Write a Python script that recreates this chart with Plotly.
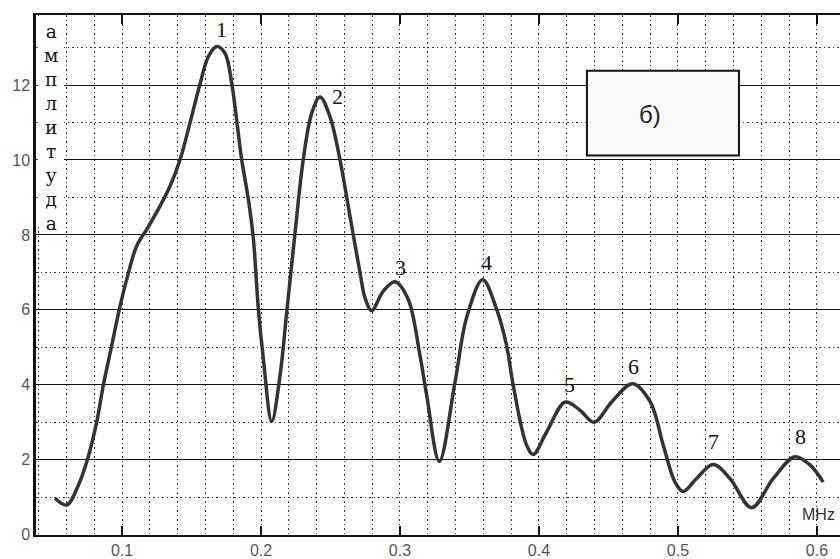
import plotly.graph_objects as go

# ---- data ----
freq_mhz = [0.0518, 0.0602, 0.0686, 0.0750, 0.0818, 0.0866, 0.0926, 0.0981, 0.1034, 0.1106,
            0.1178, 0.1273, 0.1345, 0.1417, 0.1489, 0.1561, 0.1621, 0.1681, 0.1741, 0.1789,
            0.1861, 0.1909, 0.1945, 0.1981, 0.2017, 0.2077, 0.2137, 0.2185, 0.2245, 0.2304,
            0.2365, 0.2424, 0.2496, 0.2568, 0.2640, 0.2712, 0.2750, 0.2796, 0.2880, 0.2964,
            0.3058, 0.3144, 0.3192, 0.3283, 0.3396, 0.3480, 0.3595, 0.3695, 0.3767, 0.3815,
            0.3911, 0.3959, 0.4055, 0.4190, 0.4295, 0.4397, 0.4523, 0.4673, 0.4800, 0.4894,
            0.4978, 0.5038, 0.5134, 0.5254, 0.5374, 0.5530, 0.5686, 0.5842, 0.5950, 0.6045]
amplitude = [0.97, 0.79, 1.32, 1.99, 3.01, 4.00, 5.05, 6.02, 6.82, 7.71,
             8.15, 8.77, 9.30, 10.00, 10.99, 12.03, 12.76, 13.03, 12.85, 12.05,
             10.01, 8.95, 7.90, 6.02, 4.69, 3.02, 4.25, 5.94, 8.06, 10.01,
             11.25, 11.68, 11.16, 10.01, 8.50, 7.00, 6.30, 5.98, 6.50, 6.75,
             6.29, 4.78, 3.72, 1.96, 4.07, 5.80, 6.80, 6.02, 5.05, 3.98,
             2.39, 2.14, 2.74, 3.54, 3.32, 3.00, 3.54, 4.03, 3.55, 2.39,
             1.41, 1.15, 1.50, 1.87, 1.50, 0.72, 1.50, 2.08, 1.86, 1.40]

peak_labels = ["1", "2", "3", "4", "5", "6", "7", "8"]
peak_label_x = [0.1719, 0.2547, 0.3007, 0.3619, 0.4223, 0.4683, 0.5259, 0.5885]
peak_label_y = [13.47, 11.69, 7.14, 7.27, 4.00, 4.50, 2.49, 2.62]

x_tick_vals = [0.1, 0.2, 0.3, 0.4, 0.5, 0.6]
x_tick_text = ["0.1", "0.2", "0.3", "0.4", "0.5", "0.6"]
y_tick_vals = [0, 2, 4, 6, 8, 10, 12]
y_tick_text = ["0", "2", "4", "6", "8", "10", "12"]

y_label_letters = ["а", "м", "п", "л", "и", "т", "у", "д", "а"]
panel_label = "б)"
unit_label = "MHz"

X_RANGE = [0.0381, 0.6166]
Y_RANGE = [-0.01, 13.87]

fig = go.Figure()
fig.add_trace(go.Scatter(
    x=freq_mhz, y=amplitude, mode="lines",
    line=dict(color="#333333", width=3.5, shape="spline", smoothing=1.0),
    hoverinfo="skip", showlegend=False,
))

serif = "Liberation Serif, Times New Roman, serif"
sans = "Liberation Sans, Arial, sans-serif"

annotations = []
for t, xv, yv in zip(peak_labels, peak_label_x, peak_label_y):
    annotations.append(dict(x=xv, y=yv, text=t, showarrow=False,
                            font=dict(family=serif, size=22, color="#111111"),
                            xanchor="center", yanchor="middle"))

# vertical y-axis caption, one letter per line (wrapped text)
annotations.append(dict(xref="paper", yref="paper",
                        x=15 / 804, y=1 - 4 / 522,
                        text="<br>".join(y_label_letters), showarrow=False,
                        align="center",
                        font=dict(family="DejaVu Serif, serif", size=18.5, color="#111111"),
                        xanchor="center", yanchor="top"))

annotations.append(dict(x=0.4799, y=11.21, text=panel_label, showarrow=False,
                        font=dict(family=sans, size=24, color="#222222"),
                        xanchor="center", yanchor="middle"))
annotations.append(dict(x=0.6014, y=0.55, text=unit_label, showarrow=False,
                        font=dict(family=sans, size=16, color="#333333"),
                        xanchor="center", yanchor="middle"))

shapes = [
    # white patch behind the vertical caption
    dict(type="rect", xref="paper", yref="paper", x0=0.002, x1=28 / 804,
         y0=1 - 213 / 522, y1=0.998, fillcolor="white", line=dict(width=0), layer="above"),
    # panel label box
    dict(type="rect", x0=0.4345, x1=0.5439, y0=10.12, y1=12.38,
         fillcolor="#f9f9f9", line=dict(color="#111111", width=2), layer="above"),
]

dots = "1.5px,3px"

fig.update_layout(
    width=840, height=559, autosize=False,
    margin=dict(l=36, r=0, t=15, b=22, pad=0),
    paper_bgcolor="white", plot_bgcolor="white",
    annotations=annotations, shapes=shapes,
    xaxis=dict(
        range=X_RANGE, tickvals=x_tick_vals, ticktext=x_tick_text,
        showline=True, linecolor="#111111", linewidth=2, mirror="ticks",
        ticks="inside", ticklen=9, tickwidth=1.5, tickcolor="#111111",
        tickfont=dict(family=sans, size=16, color="#555555"),
        showgrid=True, gridcolor="#333333", gridwidth=1.3, griddash=dots,
        minor=dict(dtick=0.02, tick0=0, showgrid=True, gridcolor="#333333",
                   gridwidth=1.3, griddash=dots, ticks=""),
        zeroline=False, fixedrange=True,
    ),
    yaxis=dict(
        range=Y_RANGE, tickvals=y_tick_vals, ticktext=y_tick_text,
        showline=True, linecolor="#111111", linewidth=2.5, mirror=False,
        ticks="", tickfont=dict(family=sans, size=16, color="#555555"),
        showgrid=True, gridcolor="#111111", gridwidth=1.3,
        minor=dict(dtick=1, tick0=0, showgrid=True, gridcolor="#333333",
                   gridwidth=1.3, griddash=dots, ticks=""),
        zeroline=False, fixedrange=True,
    ),
)

fig.write_html(
    "out.html",
    config={"displayModeBar": False},
    post_script="document.body.style.margin='0';document.body.style.padding='0';"
                "document.body.style.overflow='hidden';",
)
